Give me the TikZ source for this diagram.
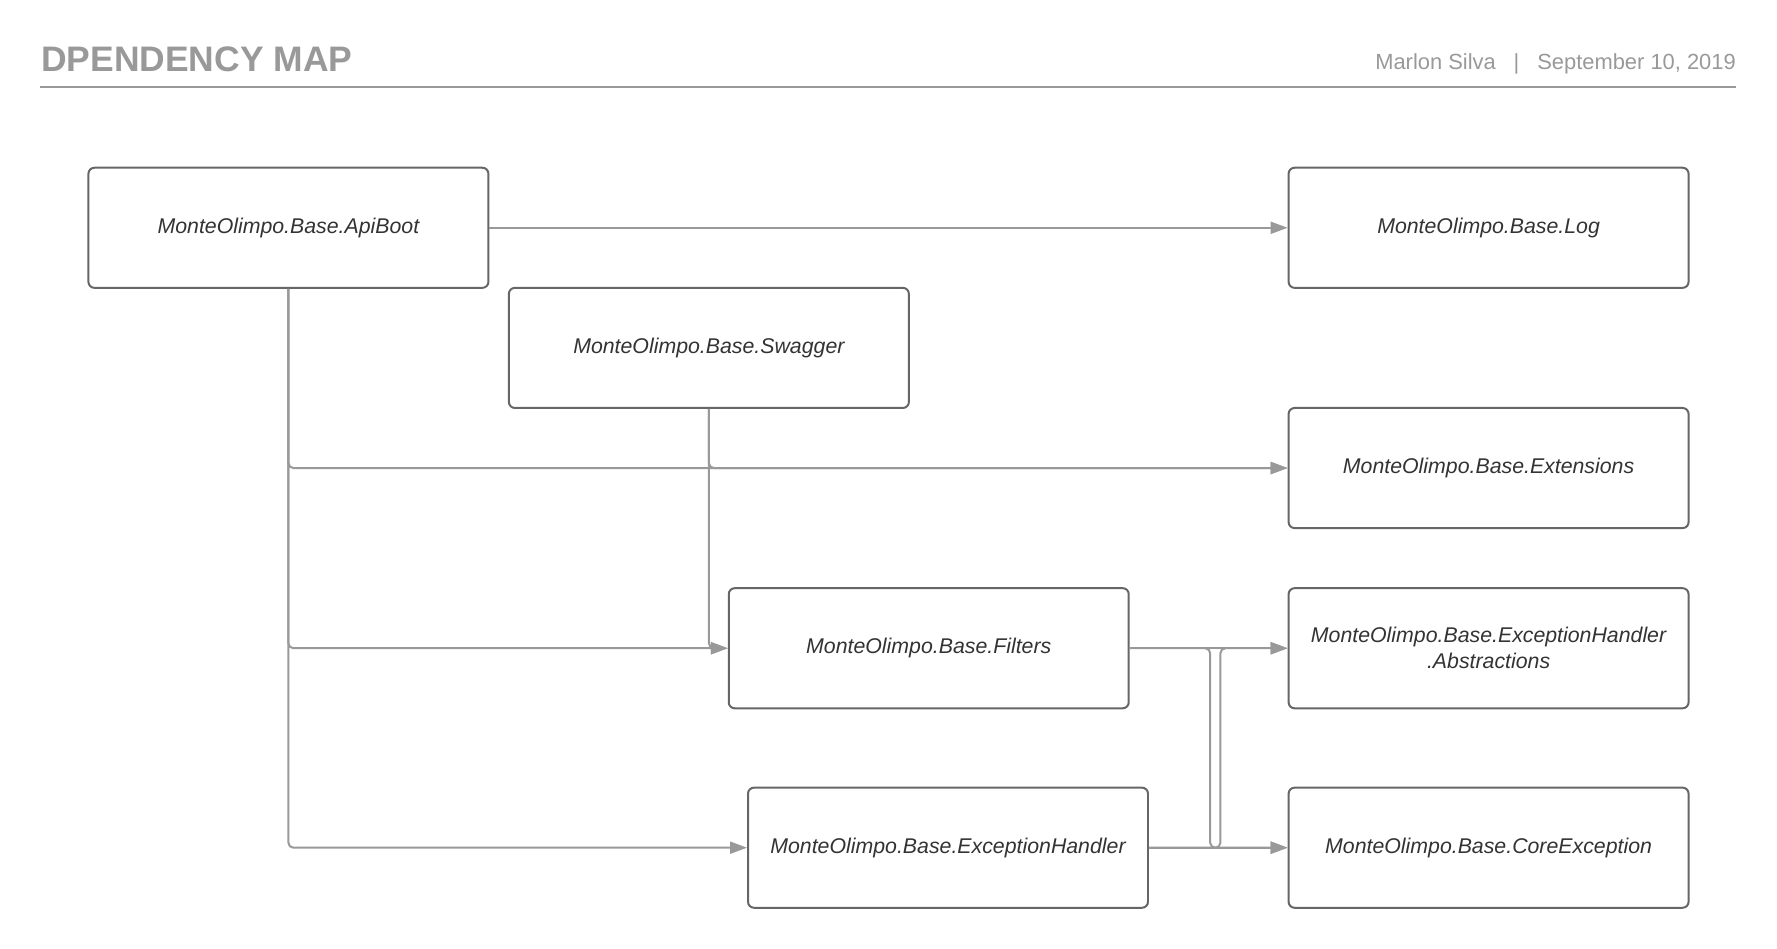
\documentclass[tikz,border=0pt]{standalone}
\usepackage{fontspec}
\setmainfont{Liberation Sans}
\usepackage{tikz}
\usetikzlibrary{arrows.meta}
\definecolor{linegray}{HTML}{999999}
\definecolor{boxgray}{HTML}{666666}
\definecolor{textgray}{HTML}{333333}

\begin{document}
\begin{tikzpicture}[x=0.02cm,y=-0.02cm,>={Triangle[length=8.5pt,width=6pt]},
      conn/.style={->,draw=linegray,line width=1pt,rounded corners=2.5pt},
      module/.style={rectangle,draw=boxgray,line width=1pt,rounded corners=3pt,
        minimum width=7.06cm,minimum height=2.12cm,inner sep=0pt,align=center,
        text=textgray,font=\fontsize{10.7}{13}\selectfont\itshape}]
      \useasboundingbox (0,0) rectangle (1568,837);

      % header
      \node[anchor=base west,inner sep=0pt,text=linegray,font=\fontsize{17.8}{20}\selectfont\bfseries]
        (title) at (36,63) {DPENDENCY MAP};
      \node[anchor=base east,inner sep=0pt,text=linegray,font=\fontsize{11}{13}\selectfont]
        (author) at (1532,61) {Marlon Silva\hspace{9pt}|\hspace{9pt}September 10, 2019};
      \draw[linegray,line width=0.8pt] (35,77) -- (1532,77);

      \node[module] (apiboot)    at ( 254.5, 201) {MonteOlimpo.Base.ApiBoot};
      \node[module] (log)        at (1313.5, 201) {MonteOlimpo.Base.Log};
      \node[module] (swagger)    at ( 625.5, 307) {MonteOlimpo.Base.Swagger};
      \node[module] (extensions) at (1313.5, 413) {MonteOlimpo.Base.Extensions};
      \node[module] (filters)    at ( 819.5, 572) {MonteOlimpo.Base.Filters};
      \node[module] (abstract)   at (1313.5, 572) {MonteOlimpo.Base.ExceptionHandler\\.Abstractions};
      \node[module] (exhandler)  at ( 836.5, 748) {MonteOlimpo.Base.ExceptionHandler};
      \node[module] (coreexc)    at (1313.5, 748) {MonteOlimpo.Base.CoreException};

      % ApiBoot
      \draw[conn] (apiboot) -- (log);
      \draw[conn] (apiboot.south) |- (extensions.west);
      \draw[conn] (apiboot.south) |- (filters.west);
      \draw[conn] (apiboot.south) |- (exhandler.west);

      % Swagger
      \draw[conn] (swagger.south) |- (extensions.west);
      \draw[conn] (swagger.south) |- (filters.west);

      % Filters and ExceptionHandler
      \draw[conn] (filters) -- (abstract);
      \draw[conn] (filters.east) -- ++(71,0) |- (coreexc.west);
      \draw[conn] (exhandler) -- (coreexc);
      \draw[conn] (exhandler.east) -- ++(63,0) |- (abstract.west);
\end{tikzpicture}
\end{document}
